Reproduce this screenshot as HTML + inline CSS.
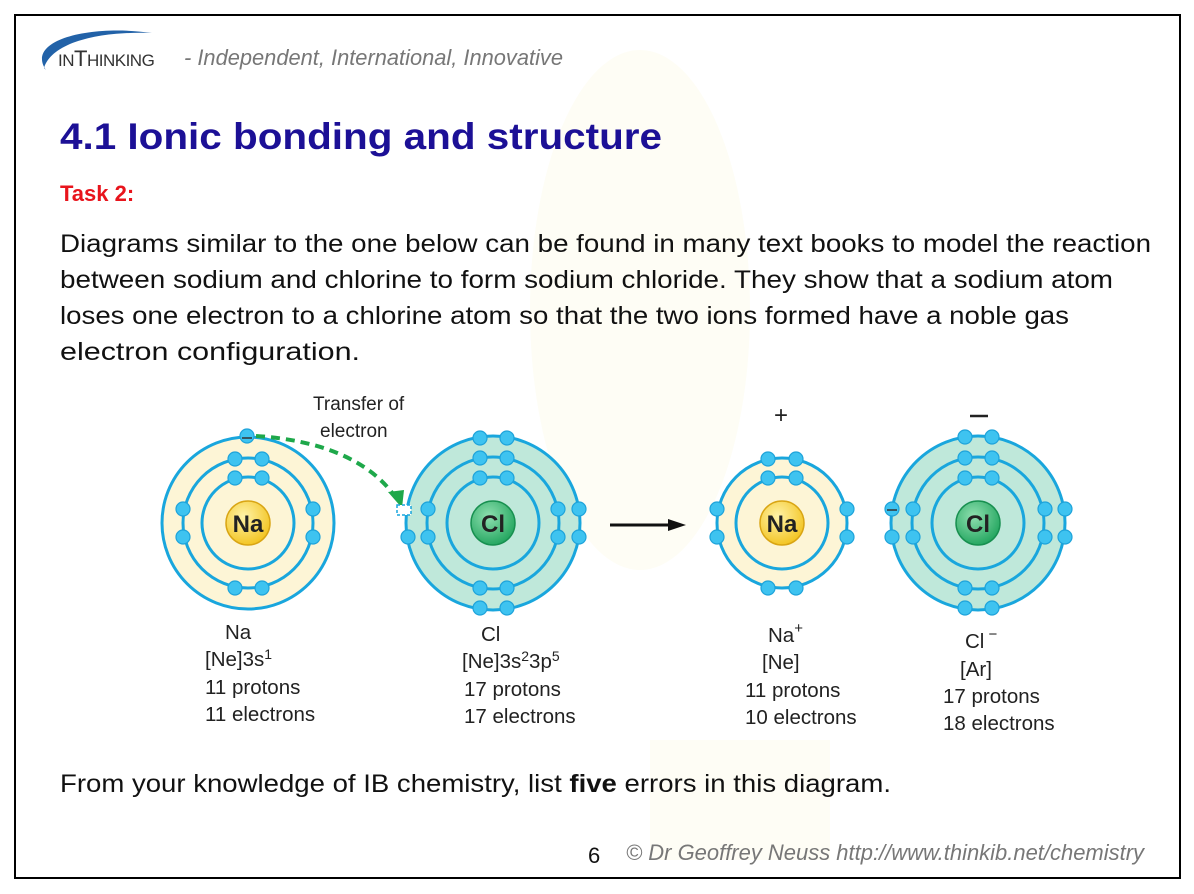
<!DOCTYPE html>
<html><head><meta charset="utf-8"><style>
html,body{margin:0;padding:0;background:#fff;}
svg{display:block;}
</style></head><body>
<svg width="1194" height="894" viewBox="0 0 1194 894" xmlns="http://www.w3.org/2000/svg" font-family="Liberation Sans, Arial, sans-serif">
<defs>
<radialGradient id="naN" cx="40%" cy="35%" r="70%"><stop offset="0" stop-color="#fff3a8"/><stop offset="1" stop-color="#f2c21c"/></radialGradient>
<radialGradient id="clN" cx="40%" cy="35%" r="70%"><stop offset="0" stop-color="#8fe0b0"/><stop offset="1" stop-color="#1fa35c"/></radialGradient>
<g id="e"><circle r="7" fill="#3ec3f0" stroke="#1ea3da" stroke-width="1.2"/></g>
</defs>
<rect x="0" y="0" width="1194" height="894" fill="#fff"/>
<ellipse cx="640" cy="310" rx="110" ry="260" fill="#fefdf5"/>
<rect x="650" y="740" width="180" height="120" fill="#fefdf5"/>
<rect x="15" y="15" width="1165" height="863" fill="none" stroke="#000" stroke-width="2"/>

<!-- logo -->
<path d="M46 70 C25 40 90 24 152 33 C100 31 52 42 44 68 Z" fill="#2262a8"/>
<text x="58" y="66" font-size="17" fill="#333" letter-spacing="-0.5">IN<tspan font-size="22">T</tspan>HINKING</text>
<text x="184" y="65" font-size="22" font-style="italic" fill="#777" textLength="379" lengthAdjust="spacingAndGlyphs">- Independent, International, Innovative</text>

<text x="60" y="149" font-size="37" font-weight="bold" fill="#1c1096" textLength="602" lengthAdjust="spacingAndGlyphs">4.1 Ionic bonding and structure</text>
<text x="60" y="201" font-size="22" font-weight="bold" fill="#e8141c">Task 2:</text>

<g font-size="25" fill="#111">
<text x="60" y="252" textLength="1091" lengthAdjust="spacingAndGlyphs">Diagrams similar to the one below can be found in many text books to model the reaction</text>
<text x="60" y="288" textLength="1053" lengthAdjust="spacingAndGlyphs">between sodium and chlorine to form sodium chloride. They show that a sodium atom</text>
<text x="60" y="324" textLength="1009" lengthAdjust="spacingAndGlyphs">loses one electron to a chlorine atom so that the two ions formed have a noble gas</text>
<text x="60" y="360" textLength="300" lengthAdjust="spacingAndGlyphs">electron configuration.</text>
</g>

<!-- Na atom -->
<g stroke="#19a6dd" stroke-width="3">
<circle cx="248" cy="523" r="86" fill="#fdf5d6"/>
<circle cx="248" cy="523" r="65" fill="none"/>
<circle cx="248" cy="523" r="46" fill="none"/>
</g>
<circle cx="248" cy="523" r="22" fill="url(#naN)" stroke="#d9a514" stroke-width="1.5"/>
<text x="248" y="532" font-size="24" font-weight="bold" text-anchor="middle" fill="#222">Na</text>
<use href="#e" x="235" y="478"/><use href="#e" x="262" y="478"/>
<use href="#e" x="235" y="459"/><use href="#e" x="262" y="459"/>
<use href="#e" x="235" y="588"/><use href="#e" x="262" y="588"/>
<use href="#e" x="183" y="509"/><use href="#e" x="183" y="537"/>
<use href="#e" x="313" y="509"/><use href="#e" x="313" y="537"/>
<use href="#e" x="247" y="436"/>
<line x1="242" y1="438" x2="252" y2="438" stroke="#333" stroke-width="1.5"/>

<path d="M256 436 C320 440 370 460 396 498" fill="none" stroke="#1ea84a" stroke-width="4" stroke-dasharray="9 6"/>
<polygon points="388,492 404,490 402,508" fill="#1ea84a"/>
<text x="313" y="410" font-size="19" fill="#222">Transfer of</text>
<text x="320" y="437" font-size="19" fill="#222">electron</text>

<!-- Cl atom -->
<g stroke="#19a6dd" stroke-width="3">
<circle cx="493" cy="523" r="87" fill="#bfe8da"/>
<circle cx="493" cy="523" r="66" fill="none"/>
<circle cx="493" cy="523" r="46" fill="#bfe8da"/>
</g>
<rect x="397" y="505" width="14" height="10" fill="#fff" stroke="#19a6dd" stroke-width="1.5" stroke-dasharray="3 2"/>
<circle cx="493" cy="523" r="22" fill="url(#clN)" stroke="#189050" stroke-width="1.5"/>
<text x="493" y="532" font-size="24" font-weight="bold" text-anchor="middle" fill="#222">Cl</text>
<use href="#e" x="480" y="478"/><use href="#e" x="507" y="478"/>
<use href="#e" x="480" y="458"/><use href="#e" x="507" y="458"/>
<use href="#e" x="480" y="438"/><use href="#e" x="507" y="438"/>
<use href="#e" x="480" y="588"/><use href="#e" x="507" y="588"/>
<use href="#e" x="480" y="608"/><use href="#e" x="507" y="608"/>
<use href="#e" x="428" y="509"/><use href="#e" x="428" y="537"/>
<use href="#e" x="558" y="509"/><use href="#e" x="558" y="537"/>
<use href="#e" x="408" y="537"/>
<use href="#e" x="579" y="509"/><use href="#e" x="579" y="537"/>

<line x1="610" y1="525" x2="672" y2="525" stroke="#111" stroke-width="3"/>
<polygon points="668,519 686,525 668,531" fill="#111"/>

<!-- Na+ -->
<text x="781" y="423" font-size="24" text-anchor="middle" fill="#222">+</text>
<g stroke="#19a6dd" stroke-width="3">
<circle cx="782" cy="523" r="65" fill="#fdf5d6"/>
<circle cx="782" cy="523" r="46" fill="none"/>
</g>
<circle cx="782" cy="523" r="22" fill="url(#naN)" stroke="#d9a514" stroke-width="1.5"/>
<text x="782" y="532" font-size="24" font-weight="bold" text-anchor="middle" fill="#222">Na</text>
<use href="#e" x="768" y="478"/><use href="#e" x="796" y="478"/>
<use href="#e" x="768" y="459"/><use href="#e" x="796" y="459"/>
<use href="#e" x="768" y="588"/><use href="#e" x="796" y="588"/>
<use href="#e" x="717" y="509"/><use href="#e" x="717" y="537"/>
<use href="#e" x="847" y="509"/><use href="#e" x="847" y="537"/>

<!-- Cl- -->
<line x1="970" y1="416" x2="988" y2="416" stroke="#222" stroke-width="2.5"/>
<g stroke="#19a6dd" stroke-width="3">
<circle cx="978" cy="523" r="87" fill="#bfe8da"/>
<circle cx="978" cy="523" r="66" fill="none"/>
<circle cx="978" cy="523" r="46" fill="none"/>
</g>
<circle cx="978" cy="523" r="22" fill="url(#clN)" stroke="#189050" stroke-width="1.5"/>
<text x="978" y="532" font-size="24" font-weight="bold" text-anchor="middle" fill="#222">Cl</text>
<use href="#e" x="965" y="478"/><use href="#e" x="992" y="478"/>
<use href="#e" x="965" y="458"/><use href="#e" x="992" y="458"/>
<use href="#e" x="965" y="437"/><use href="#e" x="992" y="437"/>
<use href="#e" x="965" y="588"/><use href="#e" x="992" y="588"/>
<use href="#e" x="965" y="608"/><use href="#e" x="992" y="608"/>
<use href="#e" x="913" y="509"/><use href="#e" x="913" y="537"/>
<use href="#e" x="1045" y="509"/><use href="#e" x="1045" y="537"/>
<use href="#e" x="892" y="509"/><use href="#e" x="892" y="537"/>
<use href="#e" x="1065" y="509"/><use href="#e" x="1065" y="537"/>
<line x1="887" y1="510" x2="897" y2="510" stroke="#333" stroke-width="1.5"/>

<g font-size="20.5" fill="#222">
<text x="225" y="639">Na</text>
<text x="205" y="666">[Ne]3s<tspan font-size="14" dy="-7">1</tspan></text>
<text x="205" y="694">11 protons</text>
<text x="205" y="721">11 electrons</text>

<text x="481" y="641">Cl</text>
<text x="462" y="668">[Ne]3s<tspan font-size="14" dy="-7">2</tspan><tspan dy="7">3p</tspan><tspan font-size="14" dy="-7">5</tspan></text>
<text x="464" y="696">17 protons</text>
<text x="464" y="723">17 electrons</text>

<text x="768" y="642">Na<tspan font-size="15" dy="-9">+</tspan></text>
<text x="762" y="669">[Ne]</text>
<text x="745" y="697">11 protons</text>
<text x="745" y="724">10 electrons</text>

<text x="965" y="648">Cl<tspan font-size="15" dy="-9"> −</tspan></text>
<text x="960" y="676">[Ar]</text>
<text x="943" y="703">17 protons</text>
<text x="943" y="730">18 electrons</text>
</g>

<text x="60" y="792" font-size="25" fill="#111" textLength="831" lengthAdjust="spacingAndGlyphs">From your knowledge of IB chemistry, list <tspan font-weight="bold">five</tspan> errors in this diagram.</text>

<text x="588" y="863" font-size="22" fill="#111">6</text>
<text x="626" y="860" font-size="22" font-style="italic" fill="#777" textLength="518" lengthAdjust="spacingAndGlyphs">© Dr Geoffrey Neuss http://www.thinkib.net/chemistry</text>
</svg>
</body></html>
